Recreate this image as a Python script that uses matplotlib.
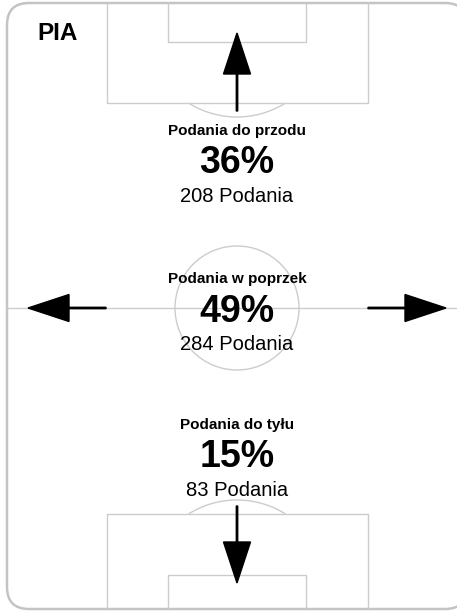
import numpy as np
import matplotlib
matplotlib.use('Agg')
import matplotlib.pyplot as plt
from matplotlib.patches import FancyBboxPatch, Circle, Arc

plt.rcParams['font.family'] = ['Liberation Sans', 'DejaVu Sans']

team = 'PIA'
labels = ['Podania do przodu', 'Podania w poprzek', 'Podania do tyłu']
percents = [36, 49, 15]
counts = [208, 284, 83]

line_col = '#cccccc'

fig = plt.figure(figsize=(4.57, 6.12), dpi=100)
ax = fig.add_axes([0, 0, 1, 1])
ax.set_xlim(0, 457)
ax.set_ylim(612, 0)
ax.set_aspect('equal')
ax.axis('off')

# frame
box = FancyBboxPatch((7, 3), 460, 606, boxstyle='round,pad=0,rounding_size=22',
                     fc='white', ec='#c4c4c4', lw=1.8, zorder=0)
ax.add_patch(box)

# pitch lines
ax.plot([107, 107, 368, 368], [3, 103, 103, 3], color=line_col, lw=1, zorder=1)
ax.plot([168, 168, 306, 306], [3, 42, 42, 3], color=line_col, lw=1, zorder=1)
ax.plot([107, 107, 368, 368], [609, 514, 514, 609], color=line_col, lw=1, zorder=1)
ax.plot([168, 168, 306, 306], [609, 575, 575, 609], color=line_col, lw=1, zorder=1)
ax.plot([7, 467], [308, 308], color=line_col, lw=1, zorder=1)
ax.add_patch(Circle((237, 308), 62, fill=False, ec=line_col, lw=1, zorder=1))
ax.add_patch(Arc((237, 26), 182, 182, theta1=57.8, theta2=122.2, ec=line_col, lw=1, zorder=1))
ax.add_patch(Arc((237, 591), 182, 182, theta1=237.8, theta2=302.2, ec=line_col, lw=1, zorder=1))

# arrows
akw = dict(width=1.4, head_width=27, head_length=41, length_includes_head=True,
           fc='black', ec='black', zorder=3)
ax.arrow(237, 111, 0, -78, **akw)
ax.arrow(237, 506, 0, 77, **akw)
ax.arrow(106, 308, -78, 0, **akw)
ax.arrow(368, 308, 78, 0, **akw)

ax.text(37, 39.5, team, fontsize=17.5, fontweight='bold', ha='left', va='baseline')

base_y = [135, 283.5, 429]
for i in range(3):
    y = base_y[i]
    ax.text(237, y, labels[i], fontsize=11, fontweight='bold', ha='center', va='baseline', zorder=4)
    ax.text(237, y + 38, str(percents[i]) + '%', fontsize=27, fontweight='bold',
            ha='center', va='baseline', zorder=4)
    ax.text(237, y + 67, str(counts[i]) + ' Podania', fontsize=14.5, ha='center', va='baseline', zorder=4)

fig.savefig('out.png', dpi=100)
